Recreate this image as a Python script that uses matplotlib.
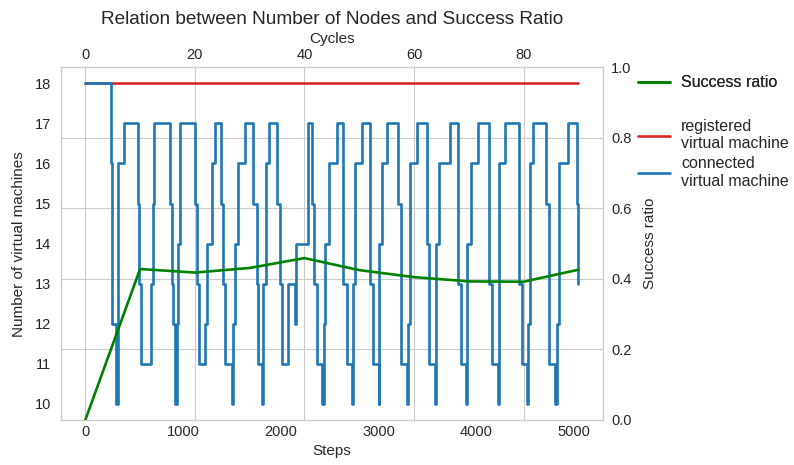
import matplotlib
matplotlib.use("Agg")
import matplotlib.pyplot as plt
from matplotlib.ticker import MultipleLocator

plt.style.use("seaborn-v0_8-whitegrid")
plt.rcParams["font.family"] = ["Liberation Sans", "DejaVu Sans"]

# connected virtual machines (step function, value changes at these steps)
vm_steps = [0, 260, 273, 314, 334, 400,
            542, 554, 570, 672, 689, 702,
            866, 883, 900, 917, 933, 948, 968,
            1122, 1145, 1166, 1224, 1247, 1292, 1326,
            1384, 1411, 1428, 1500, 1513, 1531, 1564, 1633,
            1718, 1753, 1769, 1804, 1817, 1848, 1878,
            1957, 1991, 2008, 2076, 2144, 2157, 2272,
            2321, 2342, 2366, 2420, 2436, 2451, 2495, 2571,
            2638, 2673, 2724, 2737, 2758, 2826,
            2911, 2937, 2998, 3008, 3029, 3088,
            3200, 3225, 3286, 3303, 3325, 3389,
            3491, 3514, 3576, 3589, 3620, 3729,
            3814, 3838, 3893, 3906, 3941, 4018,
            4131, 4155, 4223, 4235, 4291,
            4438, 4462, 4513, 4527, 4547, 4581,
            4711, 4744, 4803, 4820, 4844, 4939,
            5025, 5041]
vm_connected = [18, 16, 12, 10, 16, 17,
                15, 13, 11, 13, 15, 17,
                15, 13, 12, 10, 12, 14, 17,
                15, 13, 11, 12, 14, 16, 17,
                15, 13, 11, 10, 12, 14, 16, 17,
                15, 13, 11, 10, 13, 16, 17,
                15, 13, 11, 13, 12, 14, 17,
                15, 13, 11, 10, 12, 14, 16, 17,
                13, 11, 10, 13, 16, 17,
                13, 11, 10, 14, 16, 17,
                15, 11, 10, 12, 16, 17,
                14, 11, 10, 14, 16, 17,
                13, 11, 10, 14, 16, 17,
                13, 11, 10, 16, 17,
                13, 11, 10, 12, 16, 17,
                15, 11, 10, 12, 16, 17,
                15, 13]

# registered virtual machines
reg_steps = [0, 5041]
vm_registered = [18, 18]

# success ratio per 10 cycles
cycles = [0, 10, 20, 30, 40, 50, 60, 70, 80, 90]
success_ratio = [0.0, 0.428, 0.418, 0.431, 0.459, 0.425, 0.405, 0.393, 0.392, 0.426]

fig = plt.figure(figsize=(7.94, 4.65), dpi=100)
rect = [0.0764, 0.0968, 0.683, 0.7585]

# grid axes: top x (cycles), right y (success ratio)
axg = fig.add_axes(rect, zorder=0)
# virtual machines: bottom x (steps), left y (count)
axv = fig.add_axes(rect, zorder=1)
axv.patch.set_alpha(0)
# success ratio line on top of everything
axs = fig.add_axes(rect, zorder=2)
axs.patch.set_alpha(0)

axv.plot(reg_steps, vm_registered, color="#d62728", lw=1.9, label="registered\nvirtual machine")
axv.plot(vm_steps, vm_connected, color="#1f77b4", lw=1.9, drawstyle="steps-post",
         label="connected\nvirtual machine")
axv.yaxis.set_major_locator(MultipleLocator(1))
axv.grid(False)
for sp in axv.spines.values():
    sp.set_visible(False)
axv.set_xlabel("Steps", fontsize=11)
axv.set_ylabel("Number of virtual machines", fontsize=11, labelpad=6)
axv.tick_params(labelsize=10.5)
axv.tick_params(axis="y", pad=7)

axs.plot(cycles, success_ratio, color="green", lw=1.9, label="Success ratio")
axs.set_ylim(0, 1)
axs.axis("off")

axg.set_xlim(axs.get_xlim())
axg.set_ylim(0, 1)
axg.xaxis.tick_top()
axg.xaxis.set_label_position("top")
axg.yaxis.tick_right()
axg.yaxis.set_label_position("right")
axg.set_xlabel("Cycles", fontsize=11)
axg.set_ylabel("Success ratio", fontsize=11, labelpad=8)
axg.tick_params(labelsize=10.5)
axg.tick_params(axis="y", pad=6)
axg.set_title("Relation between Number of Nodes and Success Ratio", fontsize=13.7, pad=6)

leg_kw = dict(loc="upper left", fontsize=11.5, frameon=False,
              handlelength=2.0, handletextpad=0.7, labelspacing=0.3)
leg1 = axs.legend(bbox_to_anchor=(1.038, 1.018), **leg_kw)
axs.add_artist(leg1)
axv.legend(bbox_to_anchor=(1.038, 0.894), **leg_kw)

fig.savefig("out.png", dpi=100)
